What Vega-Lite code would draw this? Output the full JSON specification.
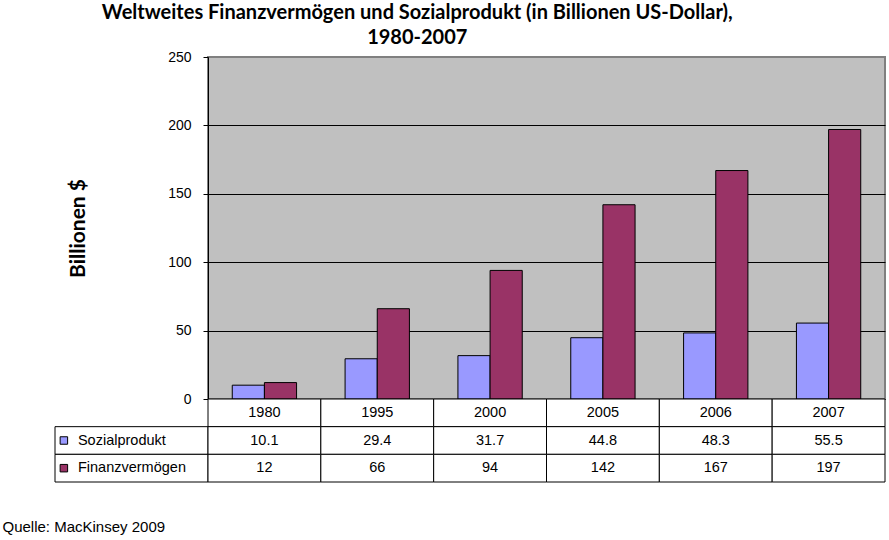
{
  "$schema": "https://vega.github.io/schema/vega-lite/v6.json",
  "padding": {"left": 2, "top": 3, "right": 4, "bottom": 4},
  "background": "white",
  "title": {
    "text": ["Weltweites Finanzvermögen und Sozialprodukt (in Billionen US-Dollar),", "1980-2007"],
    "font": "Lato",
    "fontSize": 20,
    "fontWeight": "bold",
    "color": "black",
    "lineHeight": 25,
    "anchor": "middle",
    "dx": -27,
    "offset": 1
  },
  "datasets": {
    "values": [
      {"year": "1980", "series": "Sozialprodukt", "value": 10.1},
      {"year": "1980", "series": "Finanzvermögen", "value": 12},
      {"year": "1995", "series": "Sozialprodukt", "value": 29.4},
      {"year": "1995", "series": "Finanzvermögen", "value": 66},
      {"year": "2000", "series": "Sozialprodukt", "value": 31.7},
      {"year": "2000", "series": "Finanzvermögen", "value": 94},
      {"year": "2005", "series": "Sozialprodukt", "value": 44.8},
      {"year": "2005", "series": "Finanzvermögen", "value": 142},
      {"year": "2006", "series": "Sozialprodukt", "value": 48.3},
      {"year": "2006", "series": "Finanzvermögen", "value": 167},
      {"year": "2007", "series": "Sozialprodukt", "value": 55.5},
      {"year": "2007", "series": "Finanzvermögen", "value": 197}
    ]
  },
  "columns": 2,
  "spacing": 0,
  "bounds": "flush",
  "concat": [
    {
      "width": 153,
      "height": 342,
      "data": {"values": [{"t": ""}]},
      "mark": {"type": "text"},
      "encoding": {"text": {"field": "t", "type": "nominal"}}
    },
    {
      "width": 677,
      "height": 342,
      "data": {"name": "values"},
      "view": {"fill": "#C0C0C0", "stroke": "#808080", "strokeWidth": 2},
      "mark": {"type": "bar", "stroke": "black", "strokeWidth": 1},
      "encoding": {
        "x": {
          "field": "year",
          "type": "nominal",
          "scale": {"paddingInner": 0.43, "paddingOuter": 0.215},
          "axis": null
        },
        "xOffset": {
          "field": "series",
          "type": "nominal",
          "sort": ["Sozialprodukt", "Finanzvermögen"],
          "scale": {"paddingInner": 0, "paddingOuter": 0}
        },
        "y": {
          "field": "value",
          "type": "quantitative",
          "scale": {"domain": [0, 250], "nice": false},
          "axis": {
            "title": "Billionen $",
            "values": [0, 50, 100, 150, 200, 250],
            "grid": true,
            "gridColor": {"condition": {"test": "datum.value === 250", "value": "#808080"}, "value": "black"},
            "gridOpacity": 1,
            "gridWidth": 1,
            "domainColor": "black",
            "tickColor": "black",
            "tickSize": 5,
            "labelFont": "Liberation Sans",
            "labelFontSize": 14,
            "labelColor": "black",
            "labelPadding": 12,
            "titleFont": "Lato",
            "titleFontSize": 21,
            "titleFontWeight": "bold",
            "titleColor": "black",
            "titlePadding": 79
          }
        },
        "color": {
          "field": "series",
          "type": "nominal",
          "scale": {"domain": ["Sozialprodukt", "Finanzvermögen"], "range": ["#9999FF", "#993366"]},
          "legend": null
        }
      }
    },
    {
      "width": 153,
      "height": 83,
      "data": {"name": "values"},
      "transform": [{"aggregate": [{"op": "count", "as": "n"}], "groupby": ["series"]}],
      "title": {
        "text": "Quelle: MacKinsey 2009",
        "orient": "bottom",
        "anchor": "start",
        "dx": -52,
        "offset": 37,
        "font": "Liberation Sans",
        "fontSize": 15,
        "fontWeight": "normal",
        "color": "black"
      },
      "encoding": {
        "y": {
          "field": "series",
          "type": "nominal",
          "scale": {"domain": ["Jahr", "Sozialprodukt", "Finanzvermögen"], "paddingInner": 0, "paddingOuter": 0},
          "axis": null
        }
      },
      "layer": [
        {
          "mark": {"type": "rect", "fill": "white", "stroke": "black", "strokeWidth": 1},
          "encoding": {
            "x": {"datum": 0, "type": "quantitative", "scale": {"domain": [0, 1], "nice": false, "zero": false}, "axis": null},
            "x2": {"datum": 1}
          }
        },
        {
          "mark": {"type": "point", "shape": "square", "filled": true, "size": 56, "stroke": "black", "strokeWidth": 1, "opacity": 1},
          "encoding": {
            "x": {"datum": 0.058, "type": "quantitative"},
            "color": {
              "field": "series",
              "type": "nominal",
              "scale": {"domain": ["Sozialprodukt", "Finanzvermögen"], "range": ["#9999FF", "#993366"]},
              "legend": null
            }
          }
        },
        {
          "mark": {"type": "text", "align": "left", "font": "Liberation Sans", "fontSize": 14.5, "color": "black"},
          "encoding": {
            "x": {"datum": 0.15, "type": "quantitative"},
            "text": {"field": "series", "type": "nominal"}
          }
        }
      ]
    },
    {
      "width": 677,
      "height": 83,
      "encoding": {
        "x": {
          "field": "year",
          "type": "nominal",
          "scale": {"paddingInner": 0, "paddingOuter": 0},
          "axis": null
        }
      },
      "layer": [
        {
          "data": {"name": "values"},
          "transform": [{"aggregate": [{"op": "count", "as": "n"}], "groupby": ["year"]}],
          "layer": [
            {
              "mark": {"type": "rect", "fill": "white", "stroke": "black", "strokeWidth": 1},
              "encoding": {
                "y": {"datum": "Jahr", "type": "nominal", "scale": {"domain": ["Jahr", "Sozialprodukt", "Finanzvermögen"], "paddingInner": 0, "paddingOuter": 0}, "axis": null}
              }
            },
            {
              "mark": {"type": "text", "font": "Liberation Sans", "fontSize": 14.5, "color": "black"},
              "encoding": {
                "y": {"datum": "Jahr", "type": "nominal"},
                "text": {"field": "year", "type": "nominal"}
              }
            }
          ]
        },
        {
          "data": {"name": "values"},
          "layer": [
            {
              "mark": {"type": "rect", "fill": "white", "stroke": "black", "strokeWidth": 1},
              "encoding": {
                "y": {"field": "series", "type": "nominal"}
              }
            },
            {
              "mark": {"type": "text", "font": "Liberation Sans", "fontSize": 14.5, "color": "black"},
              "encoding": {
                "y": {"field": "series", "type": "nominal"},
                "text": {"field": "value", "type": "nominal"}
              }
            }
          ]
        }
      ]
    }
  ],
  "config": {
    "view": {"stroke": null},
    "font": "Liberation Sans"
  }
}
